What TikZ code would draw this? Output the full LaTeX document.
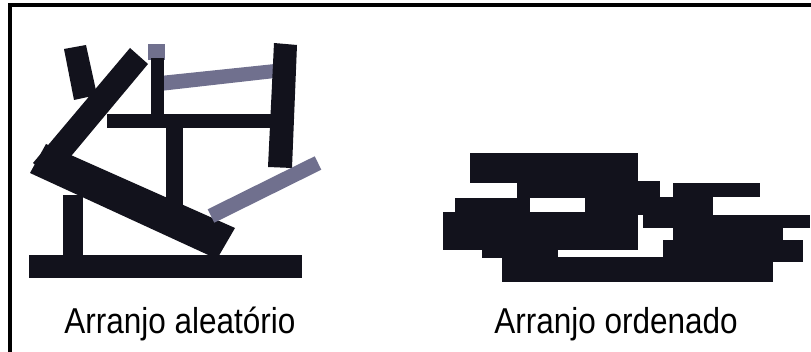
\documentclass[tikz,border=0pt]{standalone}
\usepackage{fontspec}
\setmainfont{Liberation Sans}
\usetikzlibrary{positioning}
\definecolor{ink}{RGB}{18,18,28}
\definecolor{slate}{RGB}{112,112,142}
\newcommand{\narrowtext}[1]{\scalebox{0.875}[1]{#1}}

\begin{document}
\begin{tikzpicture}[
  x=1pt, y=-1pt,
  bar/.style={fill=ink},
  greybar/.style={fill=slate},
  caption/.style={anchor=base, inner sep=0pt,
                  font=\fontsize{36}{40}\selectfont},
]
\useasboundingbox (0,0) rectangle (811,352);
\fill[white] (0,0) rectangle (811,352);
\draw[line width=4pt] (9.5,352) -- (9.5,5.5) -- (811,5.5);

%% random arrangement
\fill[bar] (64,49) -- (86,45) -- (97,95) -- (74,100) -- cycle;
\fill[greybar] (160,76) -- (275,64) -- (275,78) -- (160,91) -- cycle;
\fill[greybar] (148,44) rectangle (165,60);
\fill[bar] (151,58) rectangle (164,120);
\fill[bar] (274,43) -- (297,45) -- (292,168) -- (268,167) -- cycle;
\fill[bar] (107,114) rectangle (277,128);
\fill[bar] (130,48) -- (148,64) -- (52,179) -- (33,163) -- cycle;
\fill[bar] (166,125) rectangle (183,205);
\fill[bar] (46,144) -- (235,228) -- (217,259) -- (30,173) -- cycle;
\fill[greybar] (207.7,209.3) -- (314.7,156.3) -- (321.3,169.7)
  -- (214.3,222.7) -- cycle;
\fill[bar] (63,195) rectangle (83,258);
\fill[bar] (29,255) rectangle (302,278);

%% ordered arrangement
\foreach \xa/\ya/\xb/\yb in {470/153/638/183, 517/181/660/198,
    673/183/760/197, 455/198/530/214, 585/197/713/215,
    443/212/638/250, 643/215/810/228, 673/227/783/241,
    663/240/803/262, 482/248/558/258, 502/257/773/282}
  \fill[bar] (\xa,\ya) rectangle (\xb,\yb);

\node[caption] (random) at (180,334) {\narrowtext{Arranjo aleatório}};
\node[caption] (ordered) at (616,334) {\narrowtext{Arranjo ordenado}};
\end{tikzpicture}
\end{document}
